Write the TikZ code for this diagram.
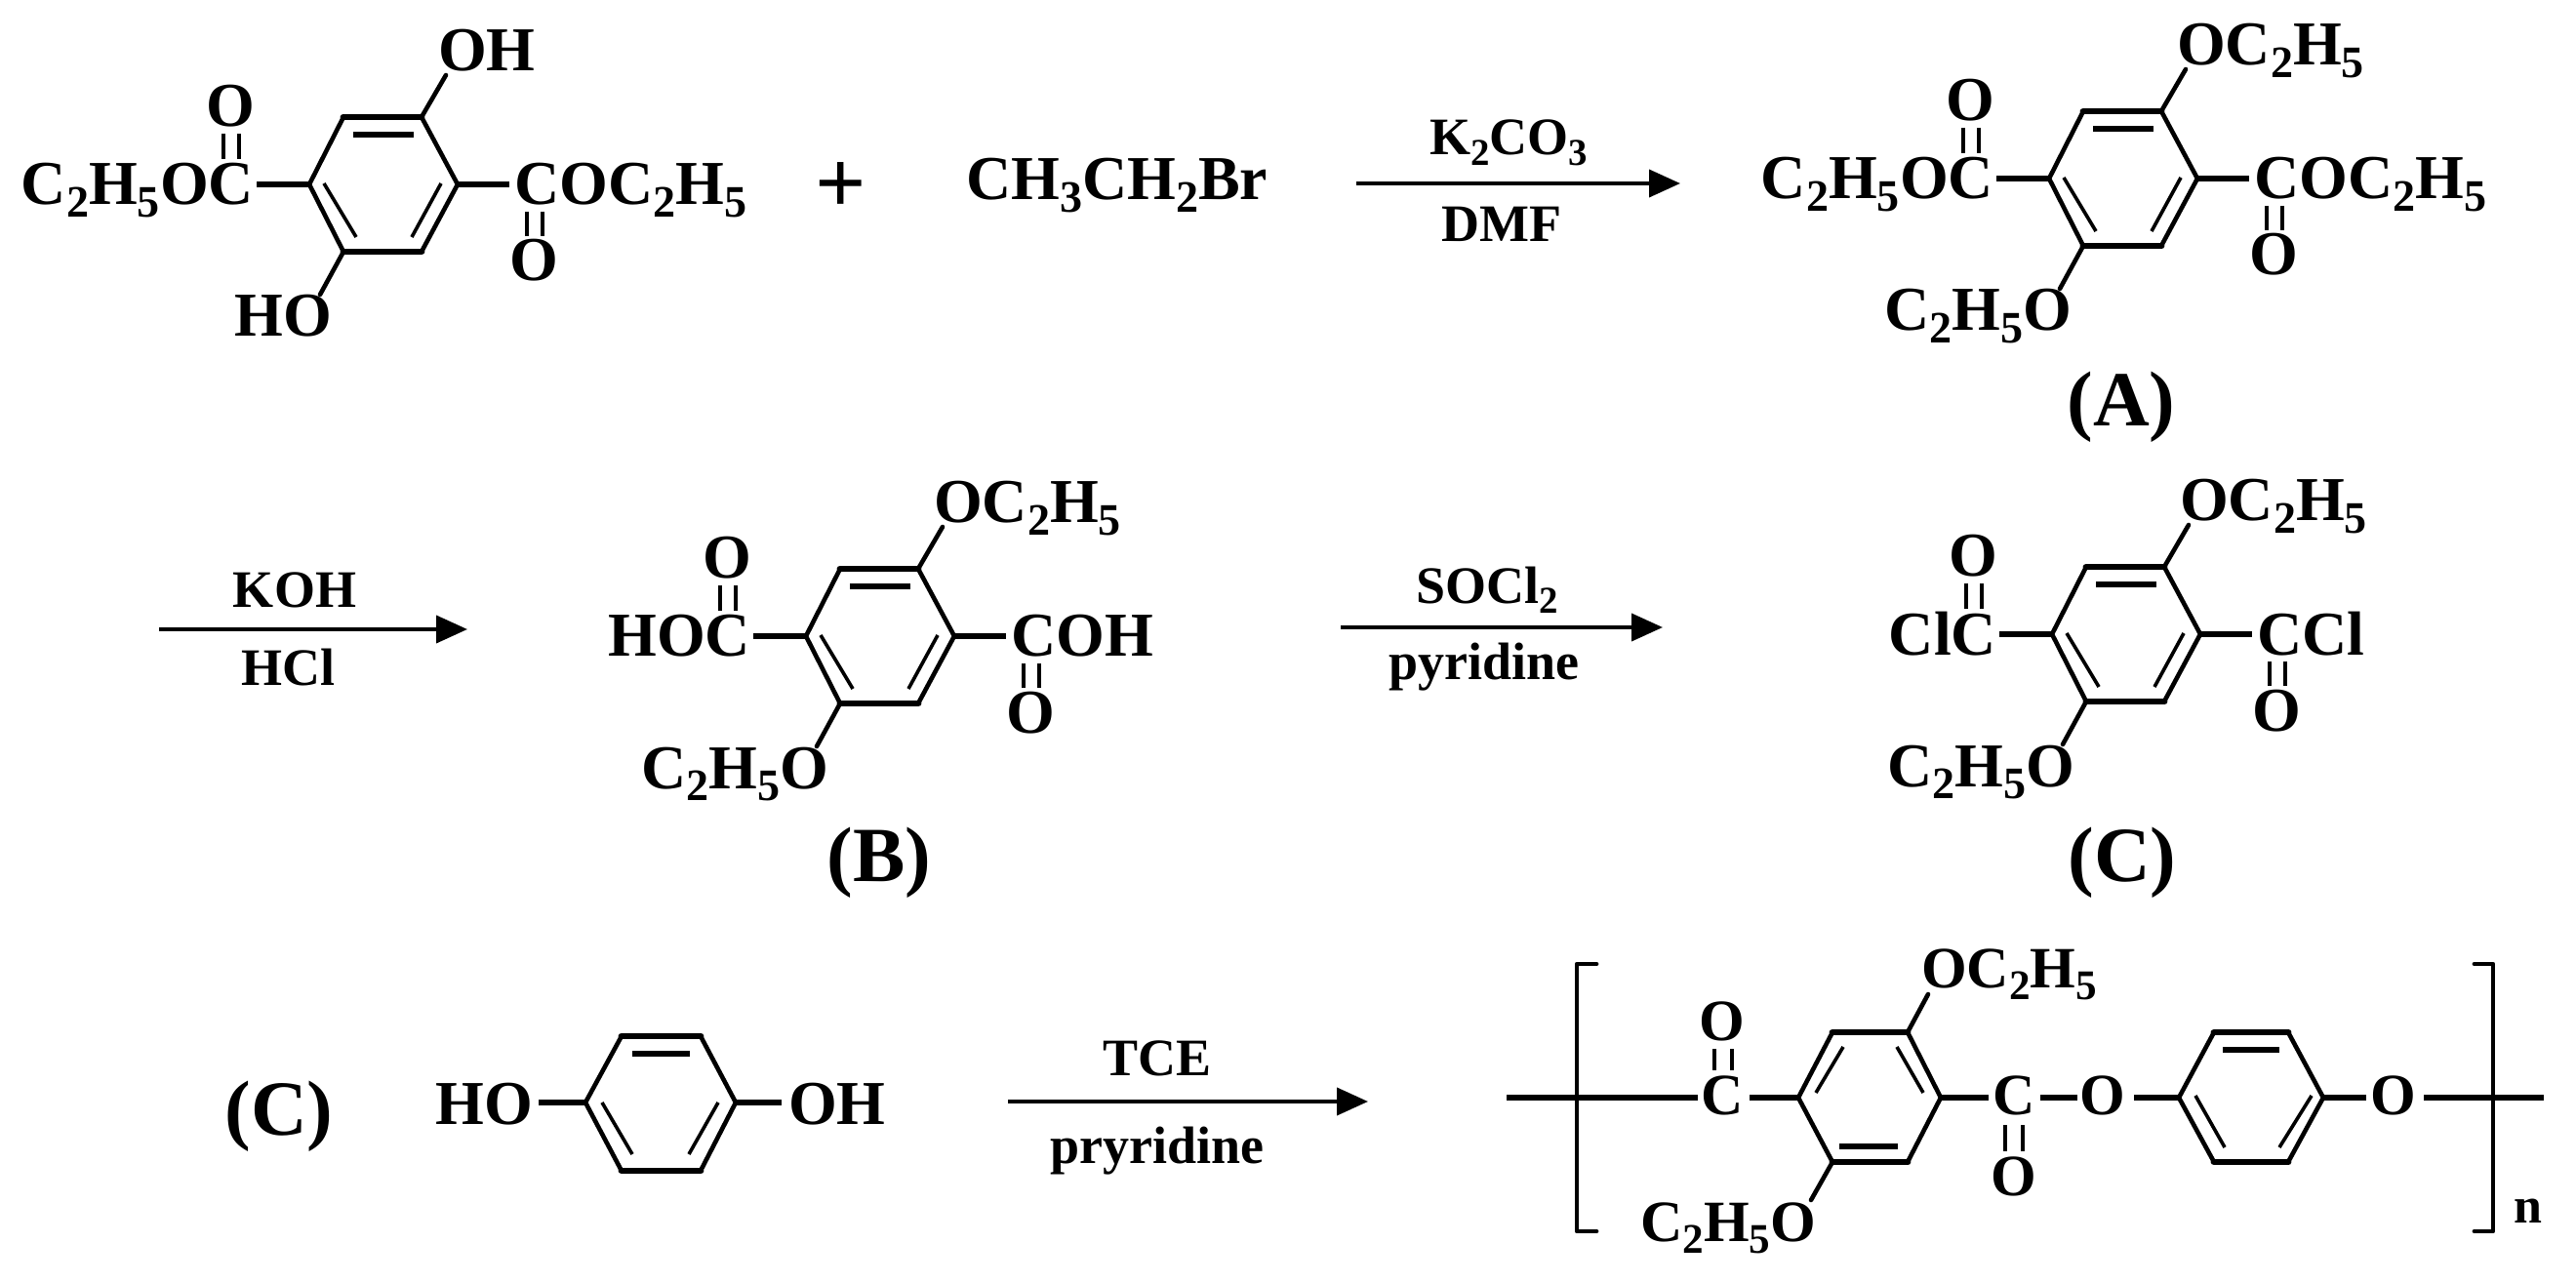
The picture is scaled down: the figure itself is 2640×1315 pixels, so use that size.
\documentclass[tikz,border=0pt]{standalone}
\usepackage{fontspec}
\setmainfont{Liberation Serif}
\usetikzlibrary{arrows.meta}
\newcommand\lo[1]{\raisebox{-0.2em}{\scalebox{0.72}{#1}}}
\tikzset{
  x=0.5pt,y=-0.5pt,
  chem/.style={font=\fontsize{32}{34}\selectfont\bfseries,inner sep=0,outer sep=0},
  chempoly/.style={font=\fontsize{30}{32}\selectfont\bfseries,inner sep=0,outer sep=0},
  reagent/.style={font=\fontsize{27}{29}\selectfont\bfseries,inner sep=0,outer sep=0,anchor=base},
  tag/.style={font=\fontsize{40}{42}\selectfont\bfseries,inner sep=0,outer sep=0,anchor=base},
  bond/.style={line width=2.3pt,line cap=round},
  hbond/.style={line width=3.4pt,line cap=round},
  inbond/.style={line width=1.8pt},
  inhbond/.style={line width=3.2pt},
  dbl/.style={line width=1.7pt},
  brk/.style={line width=2.4pt,line cap=round,line join=round},
  rxn/.style={line width=2pt,-{Triangle[length=16pt,width=14pt]}},
}
\newcommand\diester[8]{%
 \begin{scope}[shift={(#2,#3)}]
  \coordinate (#1L) at (0,0); \coordinate (#1R) at (152,0);
  \coordinate (#1TL) at (35,-69); \coordinate (#1TR) at (115,-69);
  \coordinate (#1BL) at (35,69); \coordinate (#1BR) at (115,69);
  \draw[hbond] (#1TL)--(#1TR); \draw[hbond] (#1BL)--(#1BR);
  \draw[bond] (#1L)--(#1TL); \draw[bond] (#1TR)--(#1R);
  \draw[bond] (#1R)--(#1BR); \draw[bond] (#1BL)--(#1L);
  \coordinate (#1a1) at (45,-51); \coordinate (#1a2) at (107,-51);
  \coordinate (#1b1) at (15,-1); \coordinate (#1b2) at (48,54);
  \coordinate (#1c1) at (135,-1); \coordinate (#1c2) at (105,54);
  \draw[inhbond] (#1a1)--(#1a2);
  \draw[inbond] (#1b1)--(#1b2); \draw[inbond] (#1c1)--(#1c2);
  \node[chem,anchor=base east] (#1ll) at (-57,21) {#4};
  \node[chem,anchor=base west] (#1rl) at (210,21) {#5};
  \node[chem,anchor=base] (#1to) at (-81,-59) {O};
  \node[chem,anchor=base] (#1bo) at (230,99) {O};
  \node[chem,anchor=base west] (#1tl) at (#7,-116) {#6};
  \node[chem,anchor=base east] (#1bl) at (23,156) {#8};
  \coordinate (#1e1) at (-54,0); \coordinate (#1e2) at (205,0);
  \coordinate (#1e3) at (140,-112); \coordinate (#1e4) at (11,113);
  \draw[hbond,line cap=butt] (#1e1)--(#1L); \draw[hbond,line cap=butt] (#1R)--(#1e2);
  \draw[bond] (#1TR)--(#1e3); \draw[bond] (#1BL)--(#1e4);
  \foreach \q/\xx in {p/-88,q/-72}{
    \coordinate (#1\q1) at (\xx,-52); \coordinate (#1\q2) at (\xx,-26);
    \draw[dbl] (#1\q1)--(#1\q2);}
  \foreach \q/\xx in {r/223,s/239}{
    \coordinate (#1\q1) at (\xx,28); \coordinate (#1\q2) at (\xx,53);
    \draw[dbl] (#1\q1)--(#1\q2);}
 \end{scope}}
\begin{document}
\begin{tikzpicture}
\useasboundingbox (0,0) rectangle (2640,1315);
\fill[white] (0,0) rectangle (2640,1315);

% row 1
\diester{m}{317}{189}{C\lo{2}H\lo{5}OC}{COC\lo{2}H\lo{5}}{OH}{132}{HO}
\node[font=\fontsize{46}{48}\selectfont\bfseries,inner sep=0] (plus) at (862,193) {+};
\node[chem,anchor=base west] (ethyl) at (990,205) {CH\lo{3}CH\lo{2}Br};
\coordinate (a1s) at (1390,188); \coordinate (a1e) at (1722,188);
\draw[rxn] (a1s)--(a1e);
\node[reagent] (k2co3) at (1546,159) {K\lo{2}CO\lo{3}};
\node[reagent] (dmf) at (1539,248) {DMF};
\diester{a}{2100}{183}{C\lo{2}H\lo{5}OC}{COC\lo{2}H\lo{5}}{OC\lo{2}H\lo{5}}{131}{C\lo{2}H\lo{5}O}
\node[tag] (tagA) at (2174,437) {(A)};

% row 2
\coordinate (a2s) at (163,645); \coordinate (a2e) at (479,645);
\draw[rxn] (a2s)--(a2e);
\node[reagent] (koh) at (302,623) {KOH};
\node[reagent] (hcl) at (295,703) {HCl};
\diester{b}{826}{652}{HOC}{COH}{OC\lo{2}H\lo{5}}{131}{C\lo{2}H\lo{5}O}
\node[tag] (tagB) at (901,903) {(B)};
\coordinate (a3s) at (1374,643); \coordinate (a3e) at (1704,643);
\draw[rxn] (a3s)--(a3e);
\node[reagent] (socl) at (1524,618) {SOCl\lo{2}};
\node[reagent] (pyr) at (1521,697) {pyridine};
\diester{c}{2103}{650}{ClC}{CCl}{OC\lo{2}H\lo{5}}{131}{C\lo{2}H\lo{5}O}
\node[tag] (tagC) at (2175,903) {(C)};

% row 3: C + hydroquinone
\node[tag] (tagC2) at (286,1163) {(C)};
\coordinate (hL) at (600,1130); \coordinate (hR) at (754,1130);
\coordinate (hTL) at (637,1062); \coordinate (hTR) at (718,1062);
\coordinate (hBL) at (637,1200); \coordinate (hBR) at (718,1200);
\draw[hbond] (hTL)--(hTR); \draw[hbond] (hBL)--(hBR);
\draw[bond] (hL)--(hTL); \draw[bond] (hTR)--(hR); \draw[bond] (hR)--(hBR); \draw[bond] (hBL)--(hL);
\coordinate (hi1) at (648,1080); \coordinate (hi2) at (707,1080);
\coordinate (hi3) at (617,1130); \coordinate (hi4) at (648,1183);
\coordinate (hi5) at (736,1130); \coordinate (hi6) at (706,1183);
\draw[inhbond] (hi1)--(hi2); \draw[inbond] (hi3)--(hi4); \draw[inbond] (hi5)--(hi6);
\node[chem,anchor=base east] (hoL) at (546,1152) {HO};
\node[chem,anchor=base west] (hoR) at (808,1152) {OH};
\coordinate (he1) at (552,1130); \coordinate (he2) at (801,1130);
\draw[hbond,line cap=butt] (he1)--(hL); \draw[hbond,line cap=butt] (hR)--(he2);
\coordinate (a4s) at (1033,1129); \coordinate (a4e) at (1402,1129);
\draw[rxn] (a4s)--(a4e);
\node[reagent] (tce) at (1186,1102) {TCE};
\node[reagent] (pryr) at (1186,1192) {pryridine};

% polymer
\coordinate (pL) at (1843,1125); \coordinate (pR) at (1989,1125);
\coordinate (pTL) at (1878,1058); \coordinate (pTR) at (1955,1058);
\coordinate (pBL) at (1878,1191); \coordinate (pBR) at (1955,1191);
\draw[hbond] (pTL)--(pTR); \draw[hbond] (pBL)--(pBR);
\draw[bond] (pL)--(pTL); \draw[bond] (pTR)--(pR); \draw[bond] (pR)--(pBR); \draw[bond] (pBL)--(pL);
\coordinate (pi1) at (1889,1073); \coordinate (pi2) at (1861,1120);
\coordinate (pi3) at (1944,1073); \coordinate (pi4) at (1971,1120);
\coordinate (pi5) at (1885,1175); \coordinate (pi6) at (1945,1175);
\draw[inbond] (pi1)--(pi2); \draw[inbond] (pi3)--(pi4); \draw[inhbond] (pi5)--(pi6);
\coordinate (qL) at (2233,1125); \coordinate (qR) at (2381,1125);
\coordinate (qTL) at (2269,1058); \coordinate (qTR) at (2345,1058);
\coordinate (qBL) at (2269,1191); \coordinate (qBR) at (2345,1191);
\draw[hbond] (qTL)--(qTR); \draw[hbond] (qBL)--(qBR);
\draw[bond] (qL)--(qTL); \draw[bond] (qTR)--(qR); \draw[bond] (qR)--(qBR); \draw[bond] (qBL)--(qL);
\coordinate (qi1) at (2278,1076); \coordinate (qi2) at (2336,1076);
\coordinate (qi3) at (2250,1123); \coordinate (qi4) at (2280,1176);
\coordinate (qi5) at (2369,1123); \coordinate (qi6) at (2336,1176);
\draw[inhbond] (qi1)--(qi2); \draw[inbond] (qi3)--(qi4); \draw[inbond] (qi5)--(qi6);

\node[chempoly,anchor=base] (c1) at (1765,1142) {C};
\node[chempoly,anchor=base] (c2) at (2064,1142) {C};
\node[chempoly,anchor=base] (o1) at (2155,1142) {O};
\node[chempoly,anchor=base] (o2) at (2453,1142) {O};
\node[chempoly,anchor=base] (ot) at (1765,1066) {O};
\node[chempoly,anchor=base] (ob) at (2064,1225) {O};
\node[chempoly,anchor=base west] (et1) at (1969,1012) {OC\lo{2}H\lo{5}};
\node[chempoly,anchor=base east] (et2) at (1861,1272) {C\lo{2}H\lo{5}O};
\node[chempoly,anchor=base west,font=\fontsize{26}{28}\selectfont\bfseries] (nn) at (2576,1253) {n};

\coordinate (l0) at (1544,1125); \coordinate (l1) at (1740,1125);
\coordinate (l2) at (1793,1125); \coordinate (l3) at (2038,1125);
\coordinate (l4) at (2091,1125); \coordinate (l5) at (2129,1125);
\coordinate (l6) at (2187,1125); \coordinate (l7) at (2425,1125);
\coordinate (l8) at (2484,1125); \coordinate (l9) at (2607,1125);
\foreach \u/\v in {l0/l1,l2/pL,pR/l3,l4/l5,l6/qL,qR/l7,l8/l9}{
  \draw[hbond,line cap=butt] (\u)--(\v);}
\coordinate (e1) at (1976,1019); \coordinate (e2) at (1856,1230);
\draw[bond] (pTR)--(e1); \draw[bond] (pBL)--(e2);
\foreach \n/\xx/\ya/\yb in {u/1757/1075/1097,v/1775/1075/1097,w/2055/1153/1180,z/2073/1153/1180}{
  \coordinate (\n1) at (\xx,\ya); \coordinate (\n2) at (\xx,\yb);
  \draw[dbl] (\n1)--(\n2);}
\coordinate (b1) at (1636,988); \coordinate (b2) at (1616,988);
\coordinate (b3) at (1616,1262); \coordinate (b4) at (1636,1262);
\draw[brk] (b1)--(b2)--(b3)--(b4);
\coordinate (b5) at (2536,988); \coordinate (b6) at (2555,988);
\coordinate (b7) at (2555,1262); \coordinate (b8) at (2536,1262);
\draw[brk] (b5)--(b6)--(b7)--(b8);
\end{tikzpicture}
\end{document}
